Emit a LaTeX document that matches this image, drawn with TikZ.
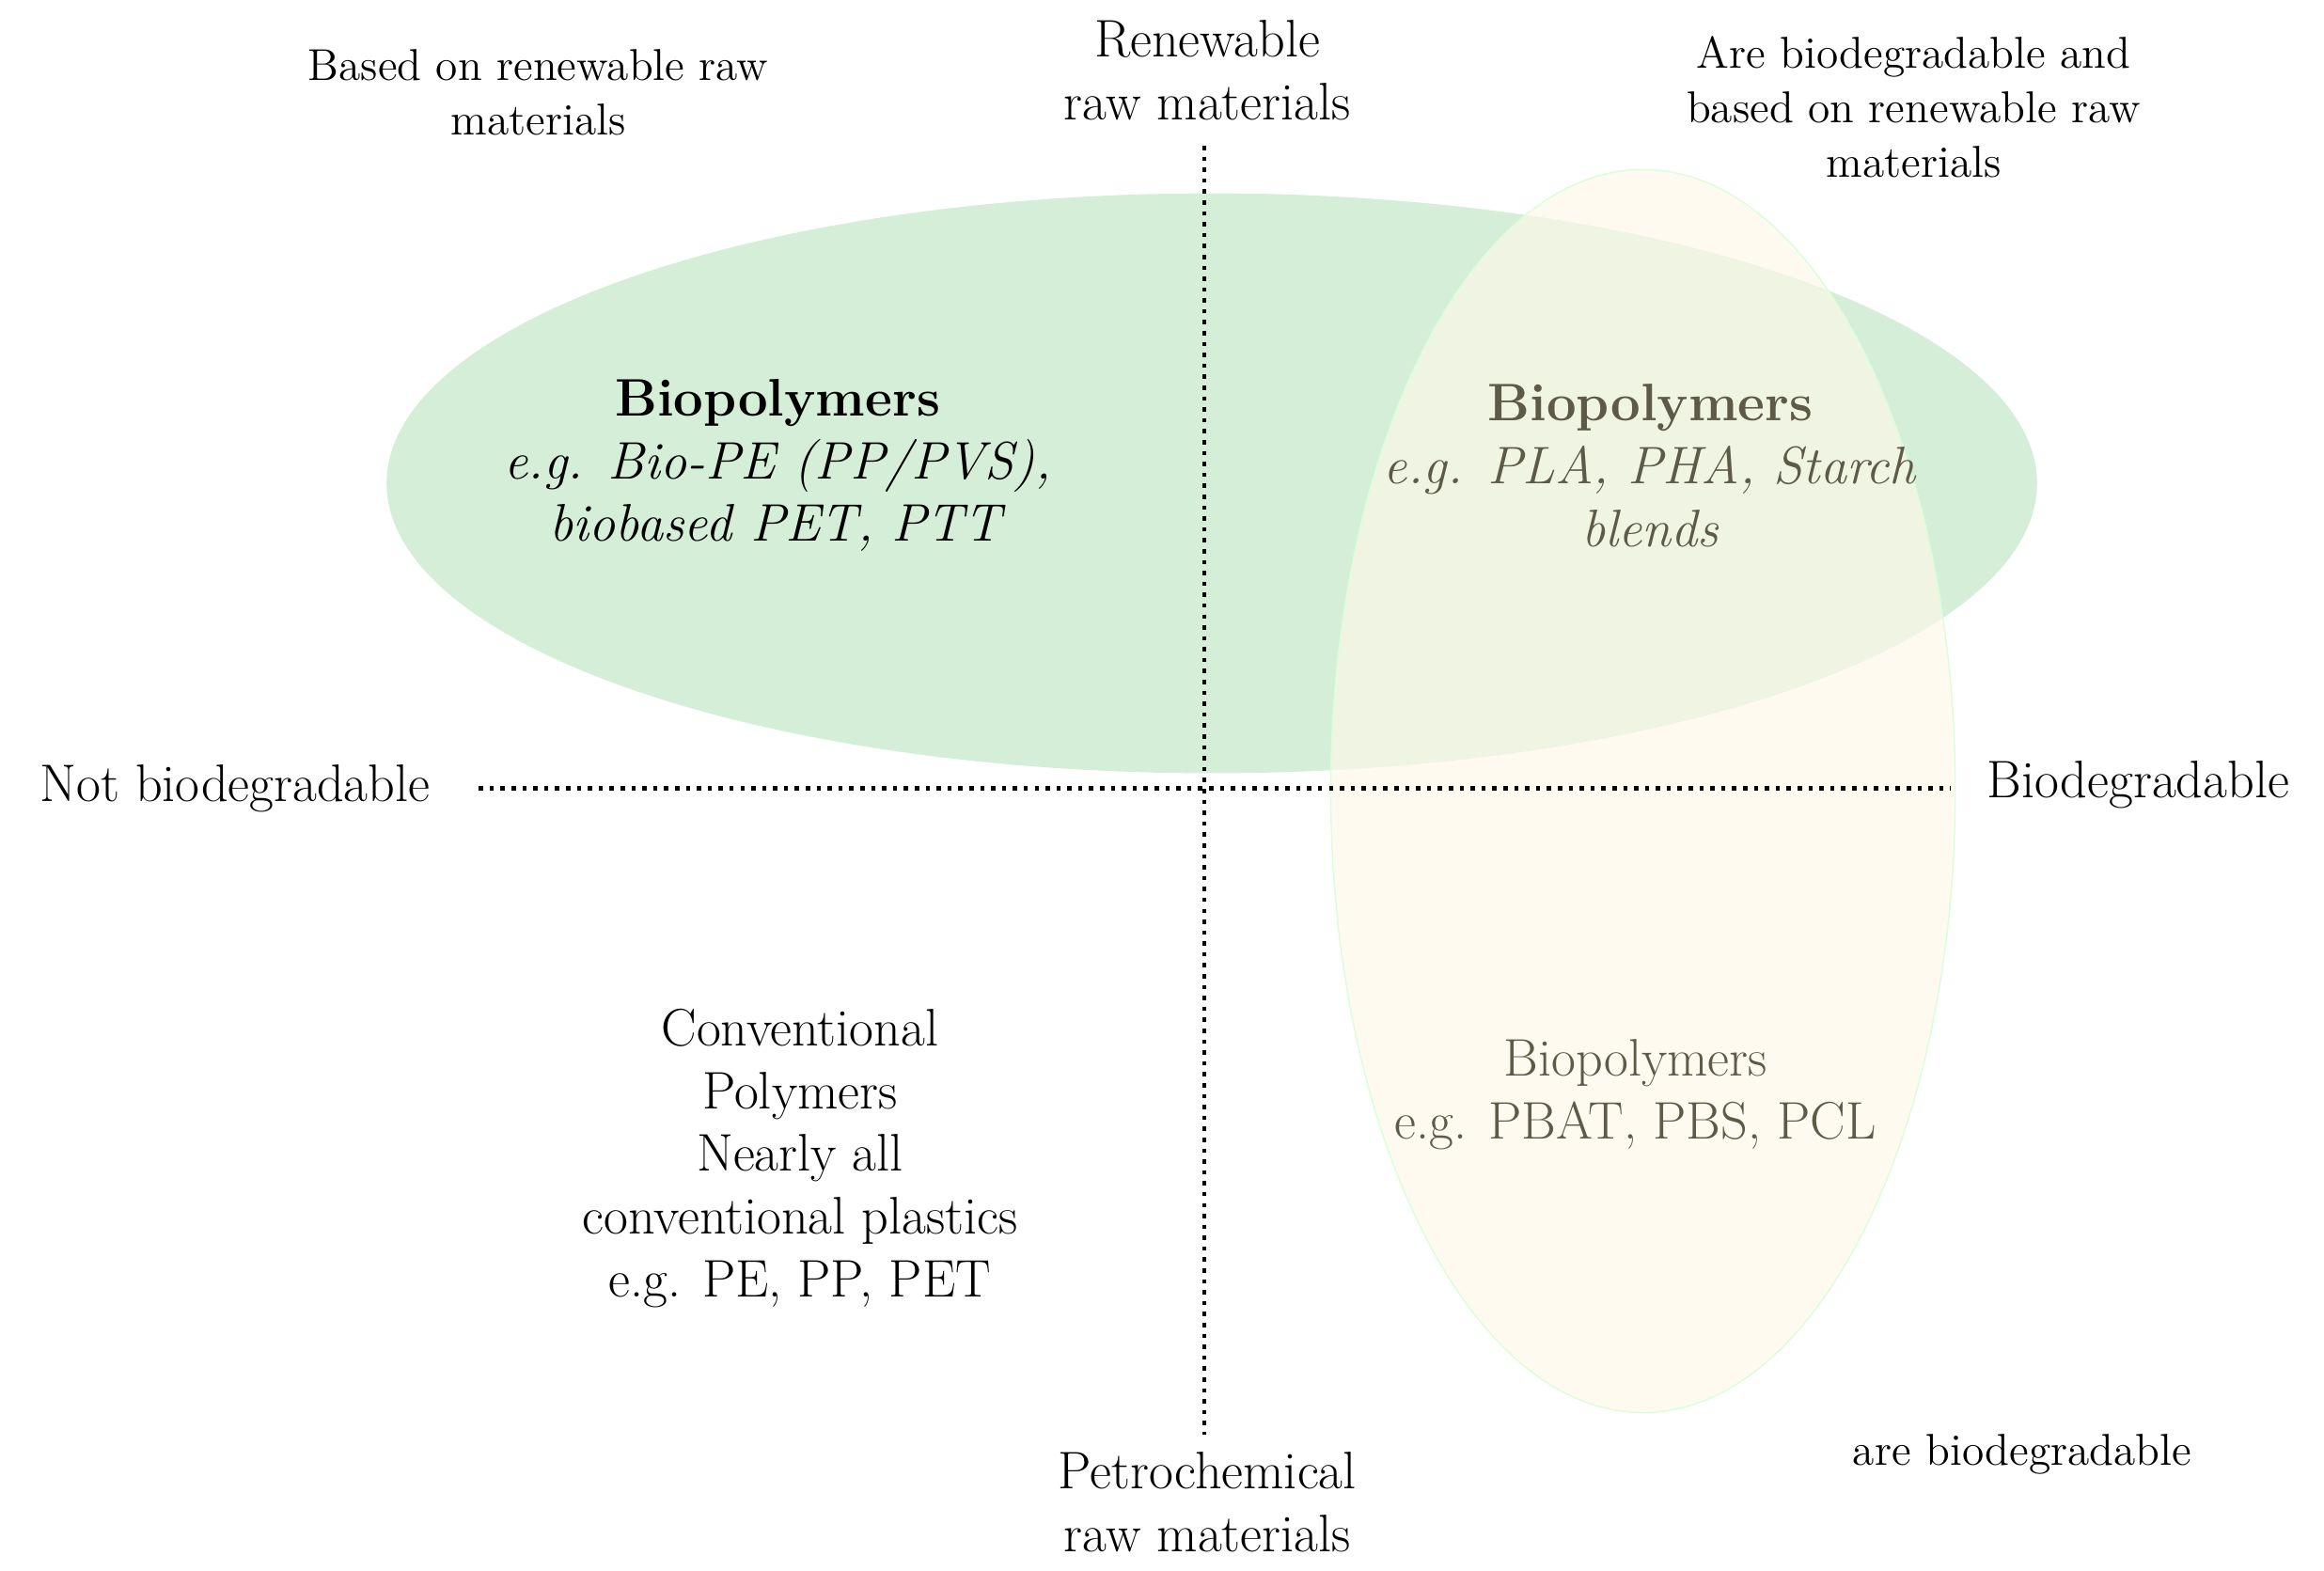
\documentclass[tikz,border=0pt]{standalone}
\definecolor{gfill}{HTML}{D4EED8}
\definecolor{yfill}{HTML}{FDF8E8}
\definecolor{dimtxt}{HTML}{5E5A48}
\begin{document}
\begin{tikzpicture}[x=0.015816cm,y=-0.015816cm,
  big/.style={font=\fontsize{16}{19}\selectfont,align=center},
  small/.style={font=\fontsize{13.5}{16.5}\selectfont,align=center},
  dim/.style={text=dimtxt},
  axis/.style={line width=1.3pt,dotted}]
\useasboundingbox (0,0) rectangle (1563,1056);
\fill[gfill] (815,325) ellipse [x radius=555,y radius=195];
\fill[fill=yfill,fill opacity=0.7,draw=green!15!white,draw opacity=1] (1105,532) ellipse [x radius=210,y radius=418];
\coordinate (vt) at (810,98); \coordinate (vb) at (810,965);
\coordinate (hl) at (322,530); \coordinate (hr) at (1312,530);
\draw[axis] (vt) -- (vb);
\draw[axis] (hl) -- (hr);
\node[big] (ren) at (812,47) {Renewable\\raw materials};
\node[big] (pet) at (812,1010) {Petrochemical\\raw materials};
\node[big] (nb) at (158,530) {Not biodegradable};
\node[big] (bd) at (1438,528) {Biodegradable};
\node[small] (l1) at (362,62) {Based on renewable raw\\materials};
\node[small] (l2) at (1287,72) {Are biodegradable and\\based on renewable raw\\materials};
\node[small] (l3) at (1360,978) {are biodegradable};
\node[big] (bp1) at (523,313) {\textbf{Biopolymers}\\\textit{e.g. Bio-PE (PP/PVS),}\\\textit{biobased PET, PTT}};
\node[big,dim] (bp2) at (1110,313) {\textbf{Biopolymers}\\\textit{e.g. PLA, PHA, Starch}\\\textit{blends}};
\node[big,dim] (bp3) at (1100,736) {Biopolymers\\e.g. PBAT, PBS, PCL};
\node[big] (conv) at (538,779) {Conventional\\Polymers\\Nearly all\\conventional plastics\\e.g. PE, PP, PET};
\end{tikzpicture}
\end{document}
